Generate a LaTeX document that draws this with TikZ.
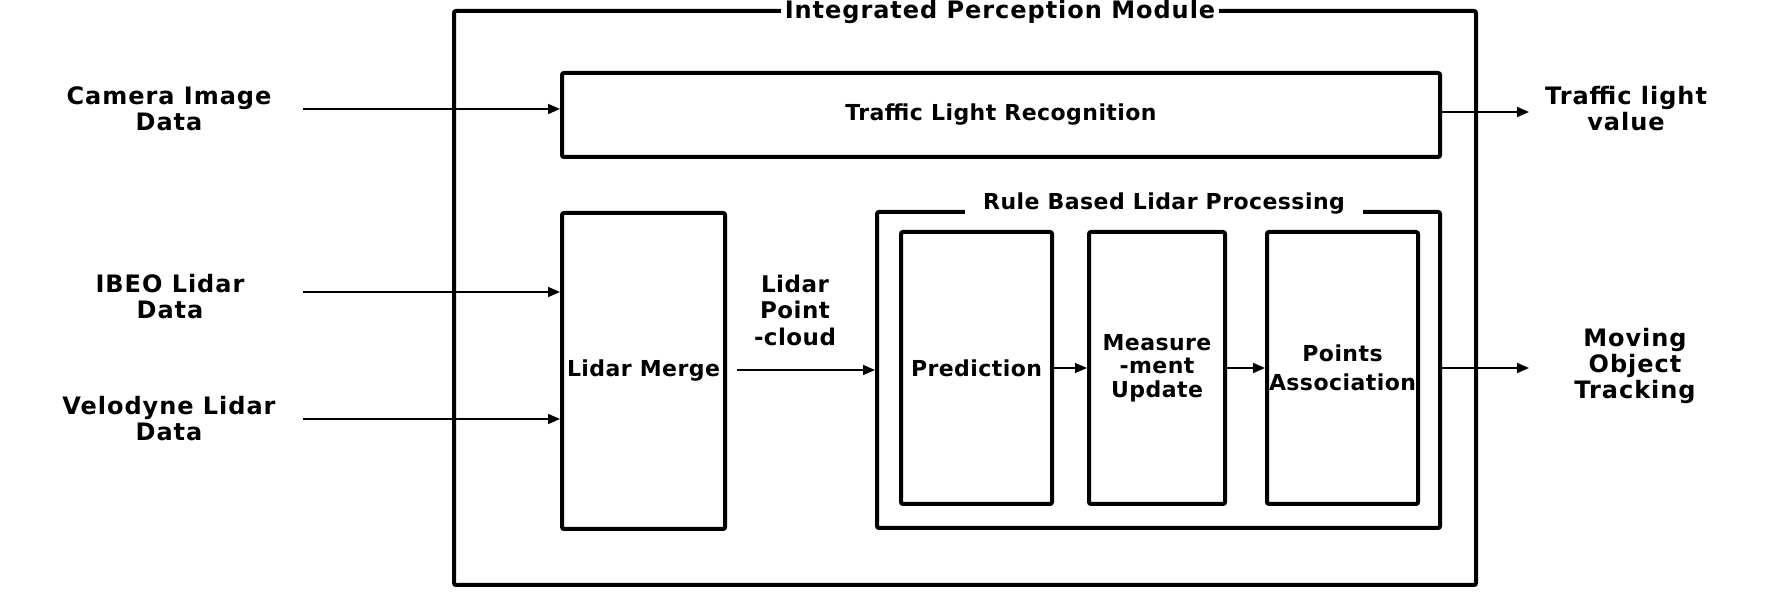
\documentclass[tikz,border=0pt]{standalone}
\usepackage{fontspec}
\setmainfont{DejaVu Sans}[LetterSpace=2]
\newfontfamily\widesans{DejaVu Sans}[LetterSpace=4]
\usetikzlibrary{arrows.meta}

\begin{document}
\begin{tikzpicture}[x=0.5pt,y=-0.5pt,>={Triangle[length=6pt,width=5pt]},
font=\bfseries\fontsize{11}{13}\selectfont,
blk/.style={draw,line width=2pt,rounded corners=1pt,inner sep=0pt,align=center},
lbl/.style={align=center,inner sep=0pt,font=\widesans\bfseries\fontsize{12}{13}\selectfont},
flow/.style={->,line width=0.8pt}]
\useasboundingbox (0,0) rectangle (1772,592);
% module and its blocks
\node[blk,minimum width=511pt,minimum height=287pt] (ipm) at (965,298) {};
\node[lbl,fill=white,inner xsep=2pt,inner ysep=3pt] (ipmtitle) at (1000,12) {Integrated Perception Module};
\node[blk,minimum width=439pt,minimum height=42pt] (tlr) at (1001,115) {Traffic Light Recognition};
\node[blk,minimum width=81.5pt,minimum height=158pt] (merge) at (643.5,371) {Lidar Merge};
\node[blk,minimum width=281.5pt,minimum height=158pt] (rblp) at (1158.5,370) {};
\node[fill=white,minimum width=199pt,inner sep=0pt,inner ysep=3pt] (rblptitle) at (1164,204) {Rule Based Lidar Processing};
\node[blk,minimum width=75.5pt,minimum height=136pt] (pred) at (976.5,368) {Prediction};
\node[blk,minimum width=68pt,minimum height=136pt,font=\bfseries\fontsize{11}{11.75}\selectfont] (meas) at (1157,368) {Measure\\-ment\\Update};
\node[blk,minimum width=75.5pt,minimum height=136pt,font=\bfseries\fontsize{11}{14.5}\selectfont] (assoc) at (1342.5,368) {Points\\Association};
% inputs and outputs
\node[lbl] (cam) at (169,109) {Camera Image\\Data};
\node[lbl] (ibeo) at (170,297) {IBEO Lidar\\Data};
\node[lbl] (velo) at (169,419) {Velodyne Lidar\\Data};
\node[lbl,font=\bfseries\fontsize{11.5}{13.25}\selectfont] (cloud) at (795,310) {Lidar\\Point\\-cloud};
\node[lbl] (tlv) at (1626,109) {Traffic light\\value};
\node[lbl] (mot) at (1635,366) {Moving\\Object\\Tracking};
\coordinate (camin) at (303,109);
\coordinate (ibeoin) at (303,292);
\coordinate (veloin) at (303,419);
\coordinate (tlvout) at (1529,112);
\coordinate (motout) at (1529,368);
\draw[flow] (camin) -- (tlr.west |- camin);
\draw[flow] (ibeoin) -- (merge.west |- ibeoin);
\draw[flow] (veloin) -- (merge.west |- veloin);
\draw[flow] ([xshift=5pt]merge.east |- rblp.west) -- (rblp.west);
\draw[flow] (pred.east) -- (meas.west);
\draw[flow] (meas.east) -- (assoc.west);
\draw[flow] (tlr.east |- tlvout) -- (tlvout);
\draw[flow] (rblp.east |- motout) -- (motout);
\end{tikzpicture}
\end{document}
